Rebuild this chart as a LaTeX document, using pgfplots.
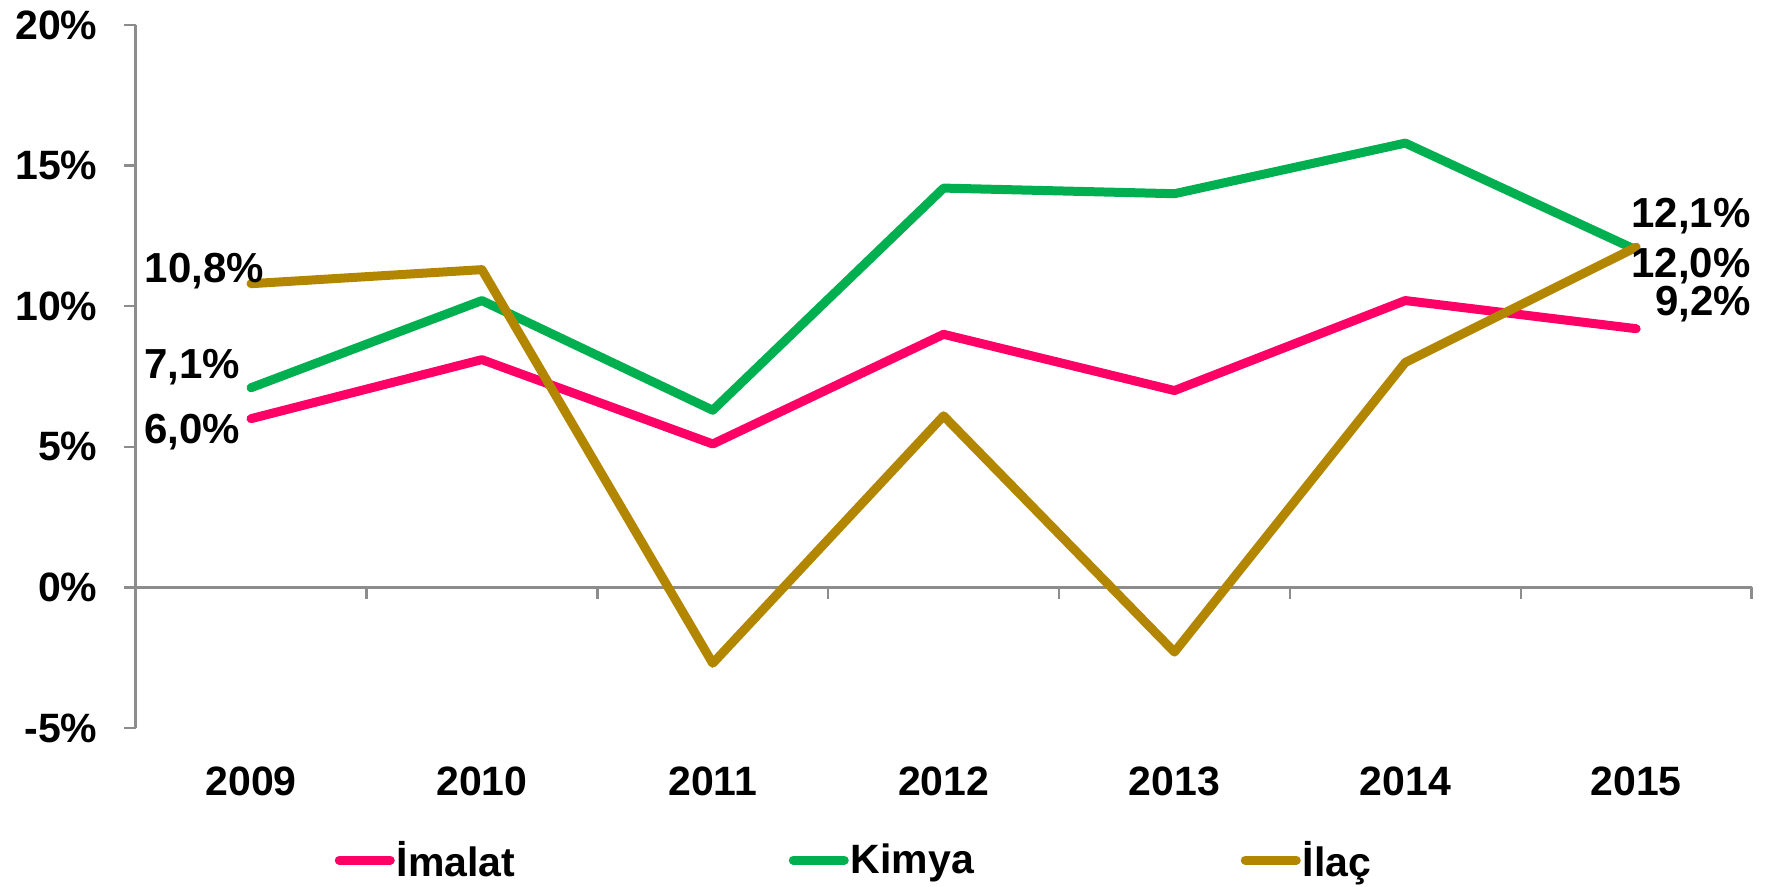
\documentclass[border=0pt]{standalone}
\usepackage{fontspec}
\setmainfont{Liberation Sans}
\usepackage{pgfplots}
\pgfplotsset{compat=1.18}
\definecolor{cImalat}{HTML}{FF0066}
\definecolor{cKimya}{HTML}{00B050}
\definecolor{cIlac}{HTML}{B38600}
\definecolor{axgray}{HTML}{8C8C8C}
\begin{document}
\begin{tikzpicture}
\useasboundingbox (-67.8pt,-79.5pt) rectangle (817.2pt,364pt);
\begin{axis}[
  at={(0,0)}, anchor=south west,
  scale only axis, width=808pt, height=351.5pt,
  xmin=-0.5, xmax=6.5, ymin=-5, ymax=20,
  clip=false,
  axis y line=left, axis x line=middle,
  axis line style={-, draw=axgray, line width=1.2pt},
  ytick={-5,0,5,10,15,20},
  yticklabels={-5\%,0\%,5\%,10\%,15\%,20\%},
  yticklabel style={xshift=-10pt},
  y tick style={draw=axgray, line width=1.2pt},
  ytick align=outside,
  major tick length=5.6pt,
  xtick={0.5,1.5,2.5,3.5,4.5,5.5,6.5},
  xticklabels={},
  x tick style={draw=axgray, line width=1.2pt},
  xtick align=outside,
  extra x ticks={0,1,2,3,4,5,6},
  extra x tick labels={2009,2010,2011,2012,2013,2014,2015},
  extra x tick style={major tick length=0pt, xticklabel style={yshift=-86pt}},
  tick label style={font=\fontsize{20.5}{24}\selectfont\bfseries, text=black},
  legend columns=3,
  legend style={draw=none, fill=none, at={(0.123,-0.188)}, anchor=west,
    font=\fontsize{20.5}{24}\selectfont\bfseries, inner sep=0pt,
    nodes={inner sep=1pt}},
  legend image code/.code={\draw[#1, line width=4.5pt, line cap=round] (0pt,0pt) -- (25.5pt,0pt);},
  every axis plot/.append style={line width=4.5pt, line cap=round, line join=round, mark=none},
]
\addplot[cImalat] coordinates {(0,6.0) (1,8.1) (2,5.1) (3,9.0) (4,7.0) (5,10.2) (6,9.2)};
\addlegendentry{\makebox[195pt][l]{İmalat}}
\addplot[cKimya] coordinates {(0,7.1) (1,10.2) (2,6.3) (3,14.2) (4,14.0) (5,15.8) (6,12.0)};
\addlegendentry{\makebox[194pt][l]{Kimya}}
\addplot[cIlac] coordinates {(0,10.8) (1,11.3) (2,-2.7) (3,6.1) (4,-2.3) (5,8.0) (6,12.1)};
\addlegendentry{\makebox[60pt][l]{İlaç}}
\begin{scope}[font=\fontsize{21}{25}\selectfont\bfseries, inner sep=0pt]
\node at (axis cs:-0.2024,11.24) {10,8\%};
\node at (axis cs:-0.256,7.83) {7,1\%};
\node at (axis cs:-0.256,5.54) {6,0\%};
\node at (axis cs:6.237,13.22) {12,1\%};
\node at (axis cs:6.237,11.42) {12,0\%};
\node at (axis cs:6.29,10.08) {9,2\%};
\end{scope}
\end{axis}
\end{tikzpicture}
\end{document}
